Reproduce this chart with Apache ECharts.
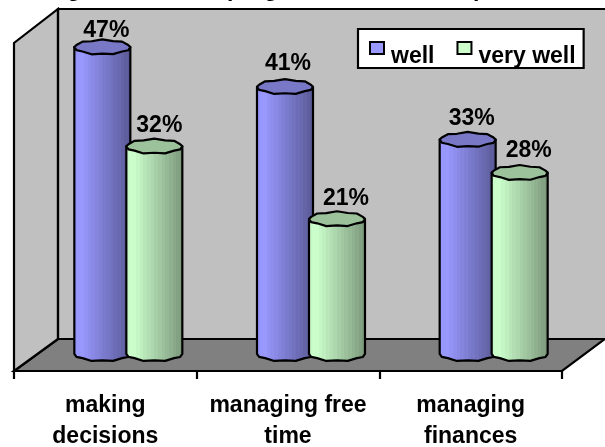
<!DOCTYPE html>
<html>
<head>
<meta charset="utf-8">
<style>html,body{margin:0;padding:0;background:#fff}#c{width:605px;height:447px}</style>
<script src="https://cdn.jsdelivr.net/npm/echarts@6/dist/echarts.min.js"></script>
</head>
<body>
<div id="c"></div>
<script>
const categories = ['making\ndecisions', 'managing free\ntime', 'managing\nfinances'];
const well = [47, 41, 33];
const veryWell = [32, 21, 28];
const seriesNames = ['well', 'very well'];

// layout and style constants (not data)
const FONT = '"Liberation Sans", Arial, sans-serif';
const LABEL_FONT_SIZE = 23;
const LINE = 2.2;
const styles = [
  { light: [153,153,255], dark: [88,88,148], top: '#7878C6', barOffset: -26, labelDx: [4, 3, 4], labelDy: [-5, -12, -9] },
  { light: [204,255,204], dark: [122,150,122], top: '#9CC29C', barOffset: 26, labelDx: [5, 9, 9], labelDy: [-9, -9, -11] }
];
const BAR_HALF = 28, DEPTH_SHIFT = 23, RIM = 7, BASE_LIFT = 4;
const rimWobble = [0, .5, -.6, .6, -.5, .7, -.6, .4, 0, .6, -.5, .6, -.7, .5, -.5, .6];

function bandedGradient(light, dark) {
  const stops = [], n = 16;
  const mix = t => {
    const pos = t < .14 ? 1 - (.14 - t) * .5 : 1 - (t - .14) / .86;
    return 'rgb(' + light.map((c, k) => Math.round(dark[k] + (c - dark[k]) * pos)).join(',') + ')';
  };
  for (let i = 0; i < n; i++) {
    const col = mix((i + .5) / n);
    stops.push({ offset: i / n, color: col }, { offset: (i + 1) / n, color: col });
  }
  return { type: 'linear', x: 0, y: 0, x2: 1, y2: 0, colorStops: stops };
}

function rimPoints(cx, cy, rx, ry, from, to) {
  const pts = [], n = rimWobble.length;
  for (let i = from; i <= to; i++) {
    const a = i / n * Math.PI * 2;
    pts.push([cx + rx * Math.cos(a), cy + ry * Math.sin(a) + rimWobble[i % n]]);
  }
  return pts;
}

function renderCylinder(params, api) {
  const s = styles[params.seriesIndex];
  const i = api.value(0), v = api.value(1);
  const top = api.coord([i, v]);
  const zero = api.coord([i, 0]);
  const cx = top[0] + DEPTH_SHIFT + s.barOffset;
  const baseY = zero[1] - BASE_LIFT;
  const bottomArc = rimPoints(cx, baseY, BAR_HALF, RIM, 0, 8);
  const topFront = [[cx - BAR_HALF, top[1]], [cx + BAR_HALF, top[1]]];
  const body = [topFront[1]].concat(bottomArc, [topFront[0]]);
  const rim = rimPoints(cx, top[1], BAR_HALF, RIM, 0, 15);
  return {
    type: 'group',
    children: [
      { type: 'polygon', shape: { points: body },
        style: { fill: bandedGradient(s.light, s.dark), stroke: '#000', lineWidth: LINE, lineJoin: 'round' } },
      { type: 'polygon', shape: { points: rim },
        style: { fill: s.top, stroke: '#000', lineWidth: LINE, lineJoin: 'round' } },
      { type: 'text', x: cx + s.labelDx[i], y: top[1] + s.labelDy[i],
        style: { text: v + '%', fill: '#000', font: 'bold ' + LABEL_FONT_SIZE + 'px ' + FONT, align: 'center', verticalAlign: 'bottom' } }
    ]
  };
}

const wallStyle = { fill: '#C0C0C0', stroke: '#000', lineWidth: LINE };
const titleBits = [['g', 67], ['prog', 227], ['p', 473]];

const chart = echarts.init(document.getElementById('c'), null, { renderer: 'canvas' });
chart.setOption({
  animation: false,
  backgroundColor: '#fff',
  grid: { left: 14, width: 548, top: 40.5, height: 330.5, outerBoundsMode: 'none' },
  xAxis: {
    type: 'category', data: categories,
    axisLine: { show: true, onZero: false, lineStyle: { color: '#000', width: LINE } },
    axisTick: { show: true, length: 8, alignWithLabel: false, lineStyle: { color: '#000', width: LINE } },
    axisLabel: { interval: 0, margin: 19, color: '#000', fontFamily: FONT, fontWeight: 'bold', fontSize: LABEL_FONT_SIZE, lineHeight: 31 }
  },
  yAxis: { type: 'value', min: -2, max: 48, show: false },
  legend: {
    left: 358, top: 29, orient: 'horizontal',
    data: seriesNames.map((n, k) => ({ name: n, icon: 'rect',
      itemStyle: { color: k ? '#CCFFCC' : '#9999FF', borderColor: '#000', borderWidth: 2 } })),
    itemWidth: 14, itemHeight: 12, itemGap: 22,
    padding: [12, 8, 0, 11],
    backgroundColor: '#fff', borderColor: '#000', borderWidth: 2.2, borderRadius: 0,
    formatter: '{t|{name}}',
    textStyle: { color: '#000', rich: { t: { color: '#000', fontFamily: FONT, fontWeight: 'bold', fontSize: LABEL_FONT_SIZE, padding: [17, 0, 0, 2] } } }
  },
  graphic: {
    elements: [
      { type: 'polygon', z: -5, shape: { points: [[58, 339], [605, 339], [562, 371], [14, 371]] },
        style: { fill: '#808080', stroke: '#000', lineWidth: LINE } },
      { type: 'polygon', z: -4, shape: { points: [[14, 371], [14, 43], [58, 9], [58, 339]] }, style: wallStyle },
      { type: 'polyline', z: -3, shape: { points: [[58, 339], [58, 9], [607, 9]] },
        style: { fill: null, stroke: '#000', lineWidth: LINE } },
      { type: 'rect', z: -6, shape: { x: 58, y: 9, width: 560, height: 330 }, style: { fill: '#C0C0C0' } }
    ].concat(titleBits.map(b => ({
      type: 'text', z: 1, x: b[1], y: -22,
      style: { text: b[0], fill: '#000', font: 'bold ' + LABEL_FONT_SIZE + 'px ' + FONT }
    })))
  },
  series: [well, veryWell].map((vals, k) => ({
    name: seriesNames[k], type: 'custom', clip: false, z: 3,
    renderItem: renderCylinder,
    encode: { x: 0, y: 1 },
    itemStyle: { color: k ? '#CCFFCC' : '#9999FF' },
    data: vals.map((v, i) => [i, v])
  }))
});
</script>
</body>
</html>
